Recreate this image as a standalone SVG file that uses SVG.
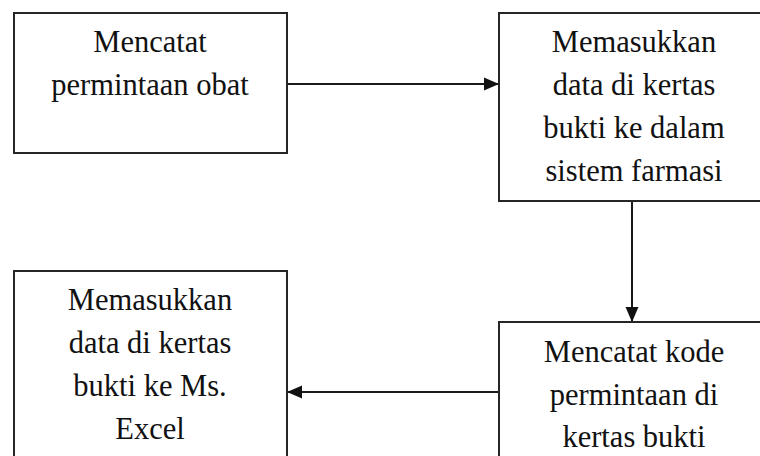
<svg xmlns="http://www.w3.org/2000/svg" width="760" height="456" viewBox="0 0 760 456">
<style>
.box{fill:#fff;stroke:#262626;stroke-width:2}
.t{font-family:"Liberation Serif","Times New Roman",serif;font-size:30.5px;fill:#111;text-anchor:middle}
.c{stroke:#1a1a1a;stroke-width:2;fill:none;marker-end:url(#ah)}
</style>
<defs>
<marker id="ah" markerUnits="userSpaceOnUse" markerWidth="16" markerHeight="14" refX="15" refY="7" orient="auto">
<path d="M0,0.5 L15,7 L0,13.5 Z" fill="#111"/>
</marker>
</defs>
<rect width="760" height="456" fill="#fff"/>
<g id="connectors">
<line class="c" x1="287" y1="84" x2="499" y2="84"/>
<line class="c" x1="632" y1="201" x2="632" y2="322"/>
<line class="c" x1="499" y1="392" x2="287" y2="392"/>
</g>
<g id="n1">
<rect class="box" x="14" y="13" width="273" height="140"/>
<text class="t" x="150" y="52">Mencatat</text>
<text class="t" x="150" y="95">permintaan obat</text>
</g>
<g id="n2">
<rect class="box" x="499" y="13" width="280" height="188"/>
<text class="t" x="634" y="52">Memasukkan</text>
<text class="t" x="634" y="95">data di kertas</text>
<text class="t" x="634" y="138">bukti ke dalam</text>
<text class="t" x="634" y="181">sistem farmasi</text>
</g>
<g id="n3">
<rect class="box" x="14" y="271" width="273" height="200"/>
<text class="t" x="150" y="310">Memasukkan</text>
<text class="t" x="150" y="353">data di kertas</text>
<text class="t" x="150" y="396">bukti ke Ms.</text>
<text class="t" x="150" y="439">Excel</text>
</g>
<g id="n4">
<rect class="box" x="499" y="322" width="280" height="150"/>
<text class="t" x="634" y="362">Mencatat kode</text>
<text class="t" x="634" y="405">permintaan di</text>
<text class="t" x="634" y="447">kertas bukti</text>
</g>
</svg>
